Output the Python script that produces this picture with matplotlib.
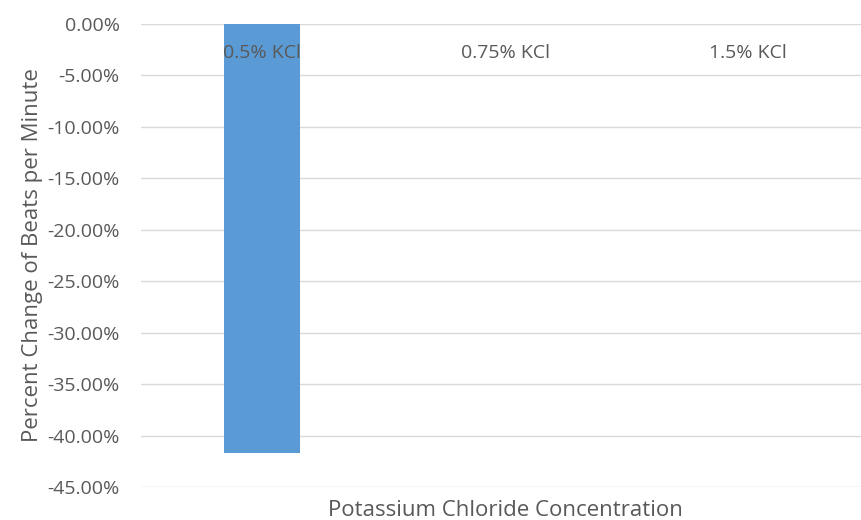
import matplotlib.pyplot as plt
from matplotlib.ticker import FuncFormatter

# dados
categorias = ['0.5% KCl', '0.75% KCl', '1.5% KCl']
variacao = [-0.417, 0.0, 0.0]
ticks_y = [0, -0.05, -0.10, -0.15, -0.20, -0.25, -0.30, -0.35, -0.40, -0.45]

plt.rcParams['font.family'] = ['Open Sans', 'DejaVu Sans']
cinza = '#595959'

fig = plt.figure(figsize=(8.62, 5.2), dpi=100)
ax = fig.add_axes([0.163, 0.0635, 0.846, 0.8905])

x = list(range(len(categorias)))
ax.bar(x, variacao, width=0.31, color='#5b9bd5', zorder=3)

ax.set_xlim(-0.5, 2.5)
ax.set_ylim(-0.45, 0)
ax.set_yticks(ticks_y)
ax.yaxis.set_major_formatter(FuncFormatter(lambda v, p: f'{v*100:.2f}%'))
ax.set_axisbelow(True)
ax.grid(axis='y', color='#d9d9d9', linewidth=1)
ax.xaxis.set_zorder(4)

ax.set_xticks(x)
ax.set_xticklabels(categorias)
ax.tick_params(axis='x', bottom=False, labelbottom=False, top=False, labeltop=True,
               pad=-31, labelsize=14, labelcolor=cinza)
ax.tick_params(axis='y', left=False, labelsize=14, labelcolor=cinza, pad=11.5)

for s in ax.spines.values():
    s.set_visible(False)

ax.set_ylabel('Percent Change of Beats per Minute', fontsize=16, color=cinza, labelpad=3)
fig.text(0.586, 0.018, 'Potassium Chloride Concentration', fontsize=16, color=cinza,
         ha='center', va='center')

fig.savefig('out.png', dpi=100, facecolor='white')
